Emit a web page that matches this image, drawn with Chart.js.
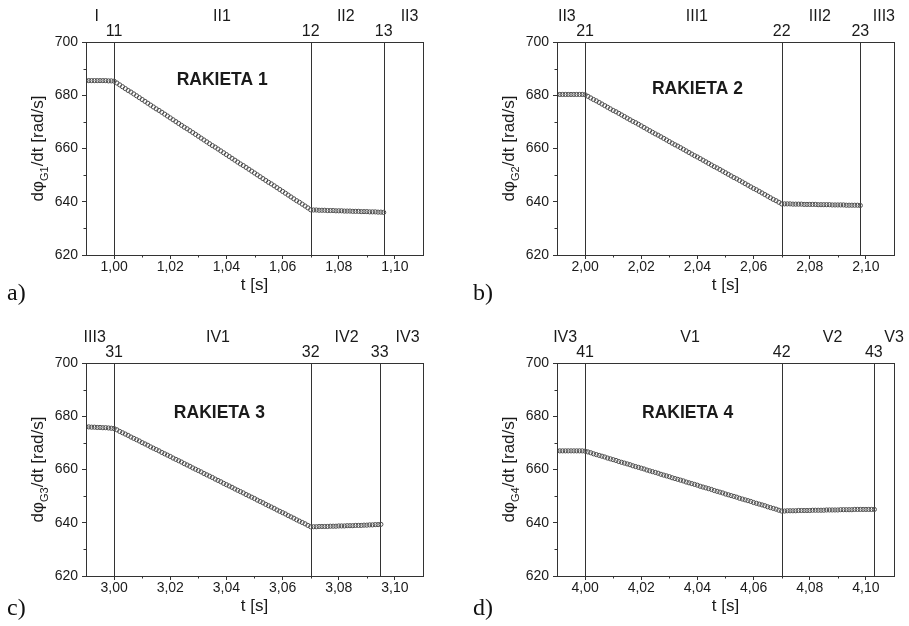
<!DOCTYPE html>
<html>
<head>
<meta charset="utf-8">
<script src="https://cdn.jsdelivr.net/npm/chart.js@4.4.0/dist/chart.umd.min.js"></script>
<style>
    body { margin: 0; background: #fff; width: 909px; height: 626px; position: relative; overflow: hidden; }
    .panel { position: absolute; width: 438px; height: 305px; }
    .letter { position: absolute; font-family: "Liberation Serif", "Times New Roman", serif; font-size: 24px; line-height: 24px; color: #111; }
</style>
</head>
<body>
<div class="panel" style="left:0;top:0"><canvas id="chartA" width="438" height="305"></canvas></div>
<div class="panel" style="left:471px;top:0"><canvas id="chartB" width="438" height="305"></canvas></div>
<div class="panel" style="left:0;top:321px"><canvas id="chartC" width="438" height="305"></canvas></div>
<div class="panel" style="left:471px;top:321px"><canvas id="chartD" width="438" height="305"></canvas></div>
<div class="letter" style="left:7px;top:280px">a)</div>
<div class="letter" style="left:473px;top:280px">b)</div>
<div class="letter" style="left:7px;top:595px">c)</div>
<div class="letter" style="left:473px;top:595px">d)</div>
<script>
// próbkowanie czasu
const startTimes = [0.990, 1.990, 2.990, 3.990];
const timeStep = 0.001;

// prędkość kątowa [rad/s]
const omega1 = [
    685.5, 685.5, 685.5, 685.5, 685.5, 685.5, 685.5, 685.5, 685.4, 685.4, 685.3,
    684.6, 683.9, 683.2, 682.5, 681.8, 681.2, 680.5, 679.8, 679.1, 678.4,
    677.7, 677.0, 676.3, 675.6, 674.9, 674.3, 673.6, 672.9, 672.2, 671.5,
    670.8, 670.1, 669.4, 668.7, 668.0, 667.4, 666.7, 666.0, 665.3, 664.6,
    663.9, 663.2, 662.5, 661.8, 661.1, 660.5, 659.8, 659.1, 658.4, 657.7,
    657.0, 656.3, 655.6, 654.9, 654.2, 653.6, 652.9, 652.2, 651.5, 650.8,
    650.1, 649.4, 648.7, 648.0, 647.3, 646.7, 646.0, 645.3, 644.6, 643.9,
    643.2, 642.5, 641.8, 641.1, 640.4, 639.8, 639.1, 638.4, 637.7, 637.0,
    636.9, 636.9, 636.8, 636.8, 636.8, 636.7, 636.7, 636.7, 636.6, 636.6, 636.6, 636.5, 636.5,
    636.5, 636.4, 636.4, 636.4, 636.3, 636.3, 636.3, 636.2, 636.2, 636.2, 636.1, 636.1, 636.0
];
const omega2 = [
    680.3, 680.3, 680.3, 680.3, 680.3, 680.3, 680.3, 680.3, 680.3, 680.3, 680.2,
    679.6, 679.0, 678.4, 677.9, 677.3, 676.7, 676.1, 675.5, 674.9, 674.3,
    673.8, 673.2, 672.6, 672.0, 671.4, 670.8, 670.2, 669.7, 669.1, 668.5,
    667.9, 667.3, 666.7, 666.1, 665.5, 665.0, 664.4, 663.8, 663.2, 662.6,
    662.0, 661.4, 660.9, 660.3, 659.7, 659.1, 658.5, 657.9, 657.3, 656.8,
    656.2, 655.6, 655.0, 654.4, 653.8, 653.2, 652.7, 652.1, 651.5, 650.9,
    650.3, 649.7, 649.1, 648.6, 648.0, 647.4, 646.8, 646.2, 645.6, 645.0,
    644.5, 643.9, 643.3, 642.7, 642.1, 641.5, 640.9, 640.4, 639.8, 639.2,
    639.2, 639.2, 639.2, 639.1, 639.1, 639.1, 639.1, 639.0, 639.0, 639.0, 639.0, 639.0, 638.9, 638.9,
    638.9, 638.9, 638.9, 638.8, 638.8, 638.8, 638.8, 638.8, 638.7, 638.7, 638.7, 638.7, 638.7, 638.6
];
const omega3 = [
    676.0, 676.0, 675.9, 675.9, 675.8, 675.8, 675.7, 675.7, 675.6, 675.5, 675.4,
    674.9, 674.3, 673.8, 673.3, 672.8, 672.2, 671.7, 671.2, 670.7, 670.1,
    669.6, 669.1, 668.5, 668.0, 667.5, 667.0, 666.4, 665.9, 665.4, 664.9,
    664.3, 663.8, 663.3, 662.8, 662.2, 661.7, 661.2, 660.6, 660.1, 659.6,
    659.1, 658.5, 658.0, 657.5, 657.0, 656.4, 655.9, 655.4, 654.8, 654.3,
    653.8, 653.3, 652.7, 652.2, 651.7, 651.2, 650.6, 650.1, 649.6, 649.1,
    648.5, 648.0, 647.5, 646.9, 646.4, 645.9, 645.4, 644.8, 644.3, 643.8,
    643.3, 642.7, 642.2, 641.7, 641.1, 640.6, 640.1, 639.6, 639.0, 638.5,
    638.5, 638.5, 638.6, 638.6, 638.6, 638.6, 638.7, 638.7, 638.7, 638.8, 638.8, 638.8, 638.9,
    638.9, 638.9, 639.0, 639.0, 639.0, 639.1, 639.1, 639.2, 639.2, 639.3, 639.3, 639.4
];
const omega4 = [
    667.0, 667.0, 667.0, 667.0, 667.0, 667.0, 667.0, 667.0, 667.0, 667.0, 666.9,
    666.6, 666.3, 665.9, 665.6, 665.3, 665.0, 664.7, 664.3, 664.0, 663.7,
    663.4, 663.0, 662.7, 662.4, 662.1, 661.8, 661.4, 661.1, 660.8, 660.5,
    660.2, 659.8, 659.5, 659.2, 658.9, 658.6, 658.2, 657.9, 657.6, 657.3,
    656.9, 656.6, 656.3, 656.0, 655.7, 655.3, 655.0, 654.7, 654.4, 654.1,
    653.7, 653.4, 653.1, 652.8, 652.5, 652.1, 651.8, 651.5, 651.2, 650.8,
    650.5, 650.2, 649.9, 649.6, 649.2, 648.9, 648.6, 648.3, 648.0, 647.6,
    647.3, 647.0, 646.7, 646.4, 646.0, 645.7, 645.4, 645.1, 644.7, 644.4,
    644.4, 644.5, 644.5, 644.5, 644.5, 644.6, 644.6, 644.6, 644.6, 644.6, 644.7, 644.7, 644.7,
    644.7, 644.7, 644.8, 644.8, 644.8, 644.8, 644.8, 644.9, 644.9, 644.9, 644.9, 644.9, 645.0,
    645.0, 645.0, 645.0, 645.0, 645.0, 645.0, 645.0
];

// zakresy osi i podziałki
const xRanges = [[0.99, 1.11], [1.99, 2.11], [2.99, 3.11], [3.99, 4.11]];
const xTicks1 = [1.00, 1.02, 1.04, 1.06, 1.08, 1.10];
const xTicks2 = [2.00, 2.02, 2.04, 2.06, 2.08, 2.10];
const xTicks3 = [3.00, 3.02, 3.04, 3.06, 3.08, 3.10];
const xTicks4 = [4.00, 4.02, 4.04, 4.06, 4.08, 4.10];
const yTicks = [620, 640, 660, 680, 700];
const yMinorTicks = [630, 650, 670, 690];

// granice faz i etykiety nad wykresem
const bounds1 = [1.00, 1.07, 1.096];
const bounds2 = [2.00, 2.07, 2.098];
const bounds3 = [3.00, 3.07, 3.0946];
const bounds4 = [4.00, 4.07, 4.1028];
const pointNames1 = ['11', '12', '13'];
const pointNames2 = ['21', '22', '23'];
const pointNames3 = ['31', '32', '33'];
const pointNames4 = ['41', '42', '43'];
const phaseNames1 = ['I', 'II1', 'II2', 'II3'];
const phaseNames2 = ['II3', 'III1', 'III2', 'III3'];
const phaseNames3 = ['III3', 'IV1', 'IV2', 'IV3'];
const phaseNames4 = ['IV3', 'V1', 'V2', 'V3'];
const phaseX1 = [0.9938, 1.0384, 1.0825, 1.1052];
const phaseX2 = [1.9935, 2.0398, 2.0836, 2.1064];
const phaseX3 = [2.9931, 3.0370, 3.0828, 3.1045];
const phaseX4 = [3.9929, 4.0374, 4.0881, 4.1100];

// napisy RAKIETA
const rocketNames = ['RAKIETA 1', 'RAKIETA 2', 'RAKIETA 3', 'RAKIETA 4'];
const rocketPos = [[1.0385, 685.6], [2.040, 682.4], [3.0375, 681.3], [4.0365, 681.3]];
const subscripts = ['G1', 'G2', 'G3', 'G4'];

const FONT = '"Liberation Sans", Arial, sans-serif';
const INK = '#1a1a1a';
const LINE = '#333';

function formatTick(v) {
    return v.toFixed(2).replace('.', ',');
}

// plugin: ramka, linie granic faz, podziałki pomocnicze, opisy
const decorPlugin = {
    id: 'decor',
    beforeDatasetsDraw(chart) {
        const p = chart.options.plugins.decor;
        const x = chart.scales.x, a = chart.chartArea, ctx = chart.ctx;
        ctx.save();
        ctx.strokeStyle = LINE;
        ctx.lineWidth = 1;
        p.bounds.forEach(b => {
            const px = Math.round(x.getPixelForValue(b)) + 0.5;
            ctx.beginPath();
            ctx.moveTo(px, a.top);
            ctx.lineTo(px, a.bottom);
            ctx.stroke();
        });
        ctx.restore();
    },
    afterDraw(chart) {
        const p = chart.options.plugins.decor;
        const x = chart.scales.x, y = chart.scales.y, a = chart.chartArea, ctx = chart.ctx;
        ctx.save();
        // ramka
        ctx.strokeStyle = LINE;
        ctx.lineWidth = 1;
        ctx.strokeRect(Math.round(a.left) + 0.5, Math.round(a.top) + 0.5,
            Math.round(a.right - a.left), Math.round(a.bottom - a.top));
        // podziałki pomocnicze
        ctx.beginPath();
        p.xMinor.forEach(v => {
            const px = Math.round(x.getPixelForValue(v)) + 0.5;
            ctx.moveTo(px, a.bottom);
            ctx.lineTo(px, a.bottom + 2.5);
        });
        yMinorTicks.forEach(v => {
            const py = Math.round(y.getPixelForValue(v)) + 0.5;
            ctx.moveTo(a.left, py);
            ctx.lineTo(a.left - 2.5, py);
        });
        ctx.stroke();
        // etykiety nad wykresem
        ctx.fillStyle = INK;
        ctx.textAlign = 'center';
        ctx.textBaseline = 'middle';
        ctx.font = '16px ' + FONT;
        p.phaseNames.forEach((t, i) => ctx.fillText(t, x.getPixelForValue(p.phaseX[i]), a.top - 25));
        p.pointNames.forEach((t, i) => ctx.fillText(t, x.getPixelForValue(p.bounds[i]), a.top - 10.5));
        // RAKIETA n
        ctx.font = 'bold 17.5px ' + FONT;
        ctx.fillText(p.rocket, x.getPixelForValue(p.rocketAt[0]), y.getPixelForValue(p.rocketAt[1]));
        // opis osi Y z indeksem dolnym
        const big = '17px ' + FONT, small = '11px ' + FONT;
        const parts = [['dφ', big, 0], [p.sub, small, 4.5], ['/dt [rad/s]', big, 0]];
        let total = 0;
        parts.forEach(q => { ctx.font = q[1]; total += ctx.measureText(q[0]).width; });
        ctx.translate(37, (a.top + a.bottom) / 2);
        ctx.rotate(-Math.PI / 2);
        ctx.textAlign = 'left';
        ctx.textBaseline = 'alphabetic';
        let cx = -total / 2;
        parts.forEach(q => {
            ctx.font = q[1];
            ctx.fillText(q[0], cx, 6 + q[2]);
            cx += ctx.measureText(q[0]).width;
        });
        ctx.restore();
    }
};

function makePanel(canvasId, idx, values, xTicks, bounds, pointNames, phaseNames, phaseX) {
    const t0 = startTimes[idx];
    const points = values.map((v, i) => ({ x: Math.round((t0 + i * timeStep) * 1000) / 1000, y: v }));
    const range = xRanges[idx];
    const xMinor = xTicks.map(v => Math.round((v - 0.01) * 100) / 100).filter(v => v > range[0]);
    xMinor.push(Math.round((xTicks[xTicks.length - 1] + 0.01) * 100) / 100);

    new Chart(document.getElementById(canvasId), {
        type: 'scatter',
        data: {
            datasets: [{
                data: points,
                showLine: false,
                pointStyle: 'circle',
                pointRadius: 2.1,
                pointBorderWidth: 1,
                pointBorderColor: '#505050',
                pointBackgroundColor: 'rgba(255,255,255,0)'
            }]
        },
        options: {
            responsive: false,
            animation: false,
            layout: { padding: { left: 0, right: 15, top: 42, bottom: 0 } },
            plugins: {
                legend: { display: false },
                tooltip: { enabled: false },
                decor: {
                    bounds: bounds,
                    pointNames: pointNames,
                    phaseNames: phaseNames,
                    phaseX: phaseX,
                    xMinor: xMinor.filter(v => v < range[1]),
                    rocket: rocketNames[idx],
                    rocketAt: rocketPos[idx],
                    sub: subscripts[idx]
                }
            },
            scales: {
                x: {
                    type: 'linear',
                    min: range[0],
                    max: range[1],
                    afterBuildTicks: s => { s.ticks = xTicks.map(v => ({ value: v })); },
                    afterFit: s => { s.height = 50; },
                    grid: { drawOnChartArea: false, drawTicks: true, tickLength: 4, color: LINE },
                    border: { display: true, color: LINE, width: 1 },
                    ticks: {
                        autoSkip: false,
                        maxRotation: 0,
                        padding: 0,
                        color: INK,
                        font: { family: FONT, size: 14 },
                        callback: v => formatTick(v)
                    },
                    title: {
                        display: true,
                        text: 't [s]',
                        color: INK,
                        font: { family: FONT, size: 17 },
                        padding: { top: 0, bottom: 9 }
                    }
                },
                y: {
                    min: 620,
                    max: 700,
                    afterBuildTicks: s => { s.ticks = yTicks.map(v => ({ value: v })); },
                    afterFit: s => { s.width = 86; },
                    grid: { drawOnChartArea: false, drawTicks: true, tickLength: 4, color: LINE },
                    border: { display: true, color: LINE, width: 1 },
                    ticks: {
                        padding: 4,
                        color: INK,
                        font: { family: FONT, size: 14 }
                    }
                }
            }
        },
        plugins: [decorPlugin]
    });
}

makePanel('chartA', 0, omega1, xTicks1, bounds1, pointNames1, phaseNames1, phaseX1);
makePanel('chartB', 1, omega2, xTicks2, bounds2, pointNames2, phaseNames2, phaseX2);
makePanel('chartC', 2, omega3, xTicks3, bounds3, pointNames3, phaseNames3, phaseX3);
makePanel('chartD', 3, omega4, xTicks4, bounds4, pointNames4, phaseNames4, phaseX4);
</script>
</body>
</html>
